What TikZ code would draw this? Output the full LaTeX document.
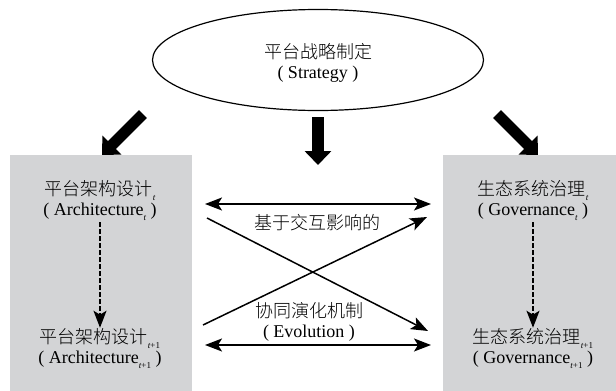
\documentclass[tikz,border=0pt]{standalone}
\usepackage{fontspec}
\setmainfont{Liberation Serif}
\newfontfamily\cjk{Noto Sans CJK SC}[UprightFont=* Light]
\usetikzlibrary{arrows.meta,shapes.geometric}
\definecolor{boxgray}{RGB}{211,212,214}
\newcommand\subT{\raisebox{-5pt}{\fontsize{9}{9}\selectfont\itshape t}}
\newcommand\subTT{\raisebox{-5pt}{\fontsize{9}{9}\selectfont{\itshape t}+1}}
\tikzset{
  bigarrow/.style={line width=11pt,-{Triangle[length=14pt,width=26pt]},black},
  thinarrow/.style={line width=1.5pt,-{Stealth[length=17pt,width=13pt,inset=4pt]}},
  dblarrow/.style={line width=1.5pt,{Stealth[length=17pt,width=13pt,inset=4pt]}-{Stealth[length=17pt,width=13pt,inset=4pt]}},
  dasharrow/.style={line width=1.6pt,dash pattern=on 4.5pt off 2.5pt,-{Stealth[length=17pt,width=13pt,inset=4pt]}},
  lbl/.style={align=center,font=\fontsize{18}{20}\selectfont,inner sep=1pt},
  panel/.style={fill=boxgray,draw=none}
}
\begin{document}
\begin{tikzpicture}[x=1pt,y=-1pt]
\useasboundingbox (0,0) rectangle (616,391);
% gray panels
\fill[panel] (10,155) rectangle (192,391);
\fill[panel] (443,155) rectangle (616,391);
% strategy ellipse
\node[ellipse,draw,line width=1.2pt,minimum width=331pt,minimum height=101pt,inner sep=0pt] (strat) at (318,60) {};
\node[lbl] (stratT) at (318,63) {{\cjk 平台战略制定}\\( Strategy )};
% big arrows
\coordinate (la0) at (143,114); \coordinate (la1) at (102,155);
\coordinate (ma0) at (318,117); \coordinate (ma1) at (318,165);
\coordinate (ra0) at (497,114); \coordinate (ra1) at (538,155);
\draw[bigarrow] (la0) -- (la1);
\draw[bigarrow,line width=12pt] (ma0) -- (ma1);
\draw[bigarrow] (ra0) -- (ra1);
% box texts
\node[lbl] (archT) at (100,201) {{\cjk 平台架构设计}\subT\\( Architecture\subT\ )};
\node[lbl] (archN) at (100,349) {{\cjk 平台架构设计}\subTT\\( Architecture\subTT\ )};
\node[lbl] (govT) at (533,201) {{\cjk 生态系统治理}\subT\\( Governance\subT\ )};
\node[lbl] (govN) at (533,349) {{\cjk 生态系统治理}\subTT\\( Governance\subTT\ )};
\draw[dasharrow] (archT.south) -- (archN.north);
\draw[dasharrow] (govT.south) -- (govN.north);
% middle
\coordinate (tl) at (205,204); \coordinate (tr) at (431,204);
\coordinate (bl) at (205,345); \coordinate (br) at (431,345);
\coordinate (d0) at (207,218); \coordinate (d1) at (428,331);
\coordinate (u0) at (203,325); \coordinate (u1) at (427,217);
\draw[dblarrow] (tl) -- (tr);
\draw[dblarrow] (bl) -- (br);
\draw[thinarrow] (d0) -- (d1);
\draw[thinarrow] (u0) -- (u1);
\node[lbl] (mid1) at (317,223) {\cjk 基于交互影响的};
\node[lbl] (mid2) at (309,322) {{\cjk 协同演化机制}\\( Evolution )};
\end{tikzpicture}
\end{document}
